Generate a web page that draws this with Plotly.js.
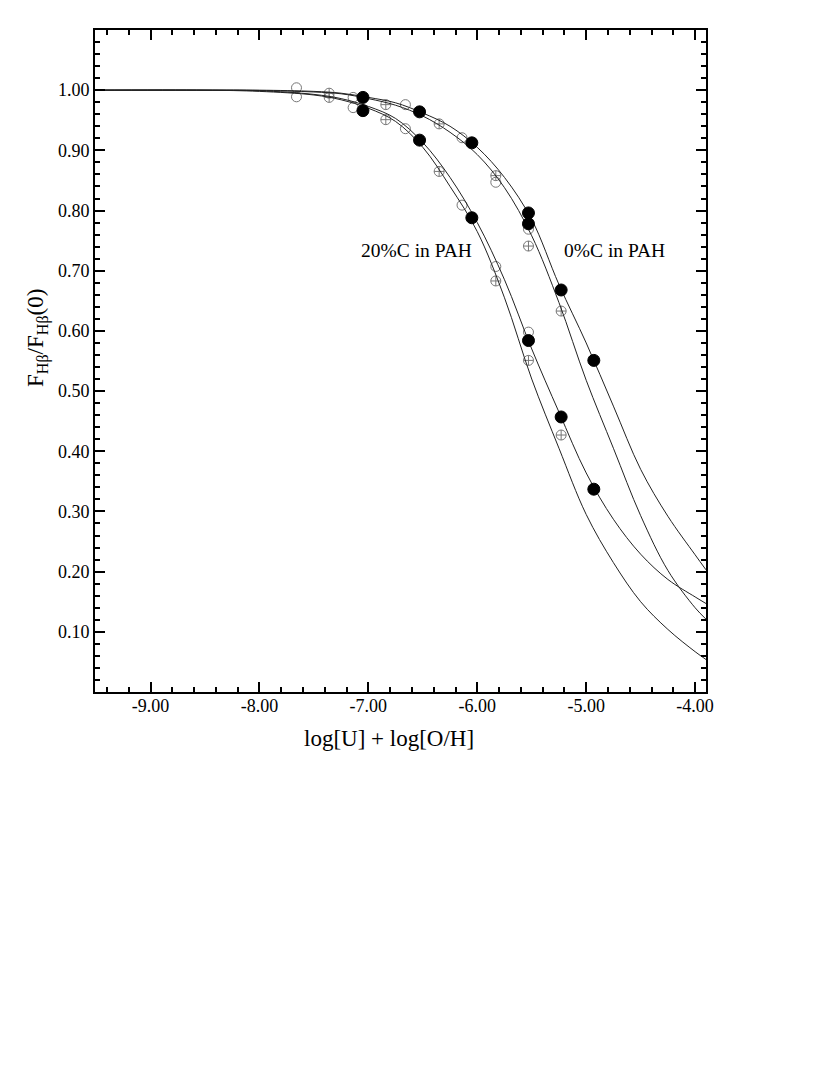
<!DOCTYPE html>
<html>
<head>
<meta charset="utf-8">
<script src="https://cdn.plot.ly/plotly-3.0.1.min.js"></script>
<style>
  body { margin: 0; background: #fff; }
  #chart { width: 830px; height: 1075px; }
</style>
</head>
<body>
<div id="chart"></div>
<script>
// model curves
const curveX = [-9.51, -8.5, -8.0, -7.5, -7.25, -7.0, -6.75, -6.5, -6.25, -6.0, -5.75, -5.5, -5.25, -5.0, -4.75, -4.5, -4.25, -4.0, -3.9];
const curve0a = [1.0, 1.0, 1.0, 0.998, 0.995, 0.988, 0.979, 0.962, 0.94, 0.905, 0.855, 0.785, 0.677, 0.58, 0.475, 0.37, 0.292, 0.228, 0.203];
const curve0b = [1.0, 1.0, 0.9995, 0.997, 0.994, 0.986, 0.975, 0.957, 0.93, 0.893, 0.838, 0.758, 0.647, 0.518, 0.405, 0.293, 0.202, 0.140, 0.121];
const curve20a = [1.0, 1.0, 0.999, 0.993, 0.986, 0.973, 0.953, 0.913, 0.855, 0.78, 0.685, 0.57, 0.465, 0.364, 0.287, 0.229, 0.187, 0.158, 0.147];
const curve20b = [1.0, 1.0, 0.998, 0.992, 0.984, 0.970, 0.948, 0.905, 0.84, 0.765, 0.655, 0.52, 0.405, 0.295, 0.215, 0.150, 0.104, 0.067, 0.054];

// filled points
const filled0X = [-7.05, -6.53, -6.05, -5.53, -5.53, -5.23, -4.93];
const filled0Y = [0.988, 0.964, 0.9125, 0.796, 0.778, 0.668, 0.551];
const filled20X = [-7.05, -6.53, -6.05, -5.53, -5.23, -4.93];
const filled20Y = [0.966, 0.917, 0.788, 0.584, 0.457, 0.337];

// open circles
const open0X = [-7.66, -7.14, -6.66, -6.14, -5.83, -5.53];
const open0Y = [1.004, 0.988, 0.976, 0.921, 0.847, 0.769];
const open20X = [-7.66, -7.14, -6.66, -6.14, -5.83, -5.53];
const open20Y = [0.989, 0.971, 0.936, 0.809, 0.707, 0.598];

// crossed circles
const cross0X = [-7.36, -6.84, -6.35, -5.83, -5.53, -5.23];
const cross0Y = [0.995, 0.976, 0.944, 0.858, 0.741, 0.633];
const cross20X = [-7.36, -6.84, -6.35, -5.83, -5.53, -5.23];
const cross20Y = [0.988, 0.951, 0.865, 0.683, 0.551, 0.427];

const xTickVals = [-9, -8, -7, -6, -5, -4];
const xTickText = ['-9.00', '-8.00', '-7.00', '-6.00', '-5.00', '-4.00'];
const yTickVals = [0.1, 0.2, 0.3, 0.4, 0.5, 0.6, 0.7, 0.8, 0.9, 1.0];
const yTickText = ['0.10', '0.20', '0.30', '0.40', '0.50', '0.60', '0.70', '0.80', '0.90', '1.00'];

const serif = '"Liberation Serif", "Times New Roman", serif';

function curve(y) {
    return {
        x: curveX, y: y, type: 'scatter', mode: 'lines',
        line: { color: '#222', width: 1, shape: 'spline', smoothing: 1 },
        hoverinfo: 'skip'
    };
}

function points(x, y, symbol, size, color) {
    return {
        x: x, y: y, type: 'scatter', mode: 'markers',
        marker: { symbol: symbol, size: size, color: color, line: { width: 1, color: color } }
    };
}

const traces = [
    points(open0X, open0Y, 'circle-open', 10, '#777'),
    points(open20X, open20Y, 'circle-open', 10, '#777'),
    points(cross0X, cross0Y, 'circle-cross-open', 10, '#777'),
    points(cross20X, cross20Y, 'circle-cross-open', 10, '#777'),
    curve(curve0a),
    curve(curve0b),
    curve(curve20a),
    curve(curve20b),
    points(filled0X, filled0Y, 'circle', 12, '#000'),
    points(filled20X, filled20Y, 'circle', 12, '#000')
];

const axisBase = {
    showline: true, linecolor: '#000', linewidth: 2, mirror: 'ticks',
    ticks: 'inside', ticklen: 10, tickwidth: 2, tickcolor: '#000',
    showgrid: false, zeroline: false, tickmode: 'array',
    tickfont: { family: serif, size: 18, color: '#000' }
};

const layout = {
    width: 830, height: 1075,
    margin: { l: 95, r: 124, t: 30, b: 383 },
    font: { family: serif, color: '#000' },
    paper_bgcolor: '#fff', plot_bgcolor: '#fff',
    showlegend: false,
    xaxis: Object.assign({}, axisBase, {
        range: [-9.51, -3.9], tickvals: xTickVals, ticktext: xTickText,
        ticklabelstandoff: -4,
        minor: { tickmode: 'linear', tick0: -9, dtick: 0.2, ticks: 'inside', ticklen: 5, tickwidth: 2, tickcolor: '#000' }
    }),
    yaxis: Object.assign({}, axisBase, {
        range: [0, 1.1], tickvals: yTickVals, ticktext: yTickText,
        minor: { tickmode: 'linear', tick0: 0, dtick: 0.02, ticks: 'inside', ticklen: 5, tickwidth: 2, tickcolor: '#000' }
    }),
    annotations: [
        { xref: 'x', yref: 'y', x: -6.56, y: 0.734, text: '20%C in PAH', showarrow: false,
          font: { family: serif, size: 19.5, color: '#000' } },
        { xref: 'x', yref: 'y', x: -4.74, y: 0.734, text: '0%C in PAH', showarrow: false,
          font: { family: serif, size: 19.5, color: '#000' } },
        { xref: 'paper', yref: 'paper', x: -0.093, y: 0.535, xanchor: 'center', yanchor: 'middle',
          textangle: -90, text: 'F<sub>Hβ</sub>/F<sub>Hβ</sub>(0)', showarrow: false,
          font: { family: serif, size: 23, color: '#000' } },
        { xref: 'paper', yref: 'paper', x: 0.481, y: -0.07, xanchor: 'center', yanchor: 'middle',
          text: 'log[U] + log[O/H]', showarrow: false,
          font: { family: serif, size: 23, color: '#000' } }
    ]
};

Plotly.newPlot('chart', traces, layout, { displayModeBar: false, staticPlot: true });
</script>
</body>
</html>
